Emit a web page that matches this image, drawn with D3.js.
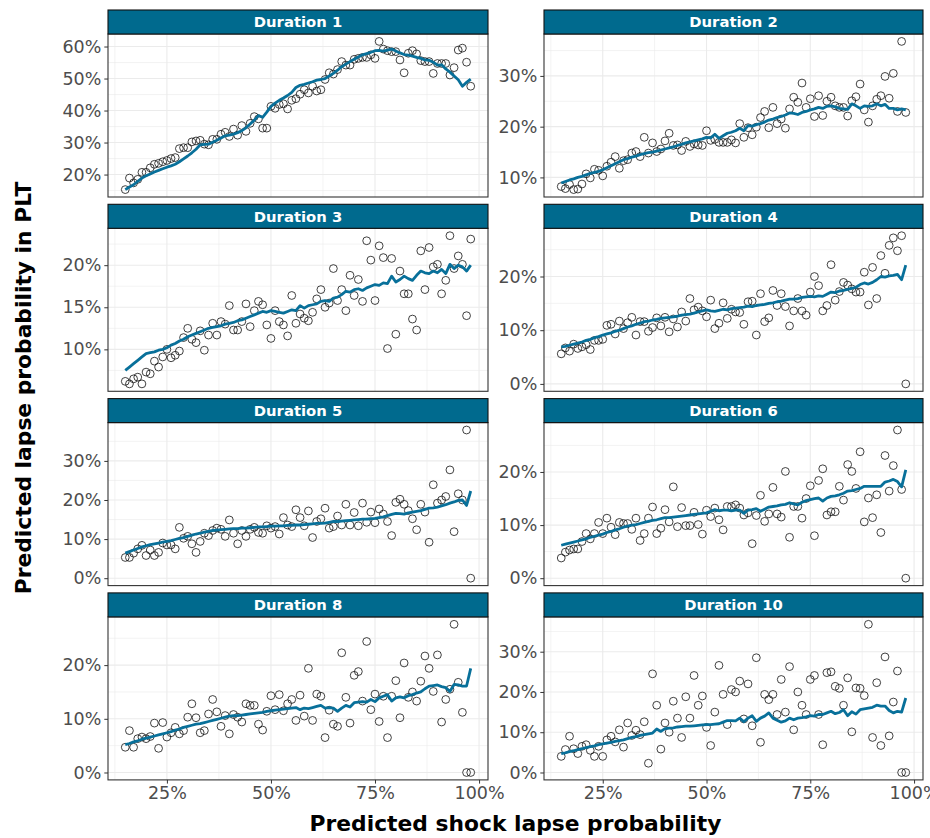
<!DOCTYPE html>
<html lang="en">
<head>
<meta charset="utf-8">
<title>Predicted lapse probability by duration</title>
<style>
body { margin: 0; background: #fff; }
text { font-family: "DejaVu Sans", sans-serif; }
.tick-label { font-size: 17.5px; fill: #4d4d4d; }
.strip-label { font-size: 14.8px; font-weight: bold; fill: #fff; }
.axis-title { font-size: 21.8px; font-weight: bold; fill: #000; }
</style>
</head>
<body>
<svg width="930" height="838"></svg>

<script src="https://cdn.jsdelivr.net/npm/d3@7"></script>
<script>

// predicted shock lapse probability (x), same for every panel
const shockProb = [
  0.15, 0.16, 0.17, 0.18, 0.19, 0.20, 0.21, 0.22, 0.23, 0.24,
  0.25, 0.26, 0.27, 0.28, 0.29, 0.30, 0.31, 0.32, 0.33, 0.34,
  0.35, 0.36, 0.37, 0.38, 0.39, 0.40, 0.41, 0.42, 0.43, 0.44,
  0.45, 0.46, 0.47, 0.48, 0.49, 0.50, 0.51, 0.52, 0.53, 0.54,
  0.55, 0.56, 0.57, 0.58, 0.59, 0.60, 0.61, 0.62, 0.63, 0.64,
  0.65, 0.66, 0.67, 0.68, 0.69, 0.70, 0.71, 0.72, 0.73, 0.74,
  0.75, 0.76, 0.77, 0.78, 0.79, 0.80, 0.81, 0.82, 0.83, 0.84,
  0.85, 0.86, 0.87, 0.88, 0.89, 0.90, 0.91, 0.92, 0.93, 0.94,
  0.95, 0.96, 0.97, 0.98];

const durations = ['Duration 1', 'Duration 2', 'Duration 3', 'Duration 4',
                   'Duration 5', 'Duration 6', 'Duration 8', 'Duration 10'];

// observed lapse probability in PLT (%), circles
const pts1 = [15.3, 18.9, 17.4, 18.5, 20.7, 20.7, 22.1, 23.2, 23.5, 24.0,
  24.4, 25.0, 25.3, 28.1, 28.4, 28.4, 30.2, 30.5, 30.7, 29.5,
  29.3, 31.0, 31.0, 32.6, 33.2, 31.9, 34.2, 32.3, 35.3, 33.5,
  36.0, 38.1, 37.4, 34.5, 34.5, 41.3, 40.7, 41.9, 42.1, 40.5,
  43.2, 43.7, 45.1, 46.5, 45.5, 47.6, 46.1, 46.5, 49.7, 51.8,
  51.4, 52.8, 55.3, 54.2, 54.2, 56.0, 56.3, 56.6, 56.6, 57.4,
  56.3, 61.6, 59.2, 58.7, 58.4, 58.4, 55.8, 51.8, 57.9, 58.7,
  57.7, 55.6, 55.3, 55.3, 51.6, 54.7, 54.7, 54.7, 51.1, 53.4,
  58.9, 59.5, 55.1, 47.6];
const pts2 = [8.2, 7.8, 8.6, 7.6, 7.7, 8.7, 10.7, 9.9, 11.6, 11.4,
  10.3, 12.2, 13.0, 14.1, 11.8, 13.3, 13.5, 14.8, 15.1, 14.1,
  17.9, 14.8, 16.8, 15.1, 15.6, 17.2, 18.7, 16.3, 16.4, 15.3,
  17.1, 16.1, 16.6, 16.4, 16.3, 19.2, 17.3, 17.5, 16.9, 16.9,
  16.9, 17.4, 16.8, 20.6, 17.9, 19.8, 18.4, 19.9, 21.8, 23.0,
  19.8, 23.8, 20.6, 21.5, 19.7, 23.5, 25.8, 24.8, 28.6, 23.8,
  25.5, 22.0, 26.1, 22.2, 25.0, 25.8, 24.1, 23.8, 23.8, 22.1,
  25.1, 25.9, 28.4, 23.3, 20.9, 24.1, 25.4, 26.1, 29.9, 25.6,
  30.5, 23.0, 36.8, 22.8];
const pts3 = [6.2, 5.9, 6.5, 6.7, 5.9, 7.3, 7.1, 8.6, 7.9, 9.1,
  10.0, 9.0, 9.3, 9.8, 11.4, 12.5, 11.2, 10.8, 12.2, 9.9,
  11.7, 13.1, 11.7, 13.3, 13.0, 15.2, 12.3, 12.3, 13.3, 15.4,
  12.7, 14.6, 15.7, 15.3, 12.9, 11.3, 14.6, 13.3, 12.9, 11.6,
  16.4, 13.1, 14.2, 13.7, 13.4, 14.4, 16.0, 17.1, 15.0, 15.5,
  19.6, 15.8, 17.1, 14.6, 18.8, 16.4, 18.3, 15.7, 22.9, 20.6,
  15.8, 22.3, 20.9, 10.1, 20.8, 11.8, 19.3, 16.6, 16.6, 13.6,
  12.3, 21.7, 17.1, 22.1, 19.8, 20.1, 16.6, 18.2, 23.5, 19.6,
  21.1, 20.1, 14.0, 23.1];
const pts4 = [5.6, 6.7, 6.1, 7.4, 6.6, 6.9, 7.3, 6.4, 8.1, 8.1,
  8.3, 10.9, 11.1, 9.3, 11.7, 10.3, 11.4, 12.4, 9.1, 11.6,
  11.6, 9.8, 10.5, 12.3, 10.8, 12.4, 9.7, 12.1, 10.6, 13.4,
  11.7, 15.9, 13.8, 14.3, 13.6, 12.5, 15.6, 10.3, 11.3, 15.1,
  12.2, 13.9, 13.4, 13.3, 11.1, 15.3, 15.4, 9.1, 16.8, 11.6,
  12.3, 17.4, 14.6, 16.8, 14.4, 10.8, 13.6, 15.9, 13.6, 12.8,
  17.1, 20.0, 18.3, 13.6, 14.6, 22.2, 15.6, 17.2, 18.9, 18.4,
  17.7, 17.1, 17.1, 20.8, 14.7, 21.7, 15.9, 23.9, 20.6, 25.8,
  27.2, 24.8, 27.6, 0.0];
const pts5 = [5.3, 5.3, 6.4, 7.5, 8.4, 5.8, 7.2, 5.8, 6.6, 9.0,
  8.5, 8.5, 7.5, 13.0, 10.2, 10.7, 8.8, 6.6, 9.4, 11.5,
  10.9, 12.2, 12.8, 12.5, 10.7, 14.9, 11.5, 8.8, 12.2, 10.7,
  12.5, 13.0, 11.7, 11.5, 13.4, 12.8, 13.2, 11.3, 15.5, 13.6,
  13.2, 17.5, 15.5, 13.4, 17.2, 10.4, 14.5, 15.2, 17.9, 12.8,
  13.2, 15.9, 13.6, 18.9, 13.6, 16.8, 13.4, 19.2, 14.3, 16.9,
  14.2, 17.7, 16.4, 14.5, 10.9, 19.4, 20.2, 18.9, 17.3, 15.2,
  12.4, 18.9, 16.9, 9.2, 23.9, 19.2, 20.0, 20.9, 27.7, 11.9,
  21.6, 20.0, 37.9, 0.0];
const pts6 = [3.8, 4.9, 5.3, 5.5, 5.5, 6.9, 8.4, 7.4, 8.4, 10.5,
  8.4, 11.3, 9.6, 8.2, 10.5, 10.3, 10.3, 9.2, 11.3, 7.1,
  8.4, 11.3, 13.4, 8.4, 9.4, 12.9, 10.6, 17.2, 9.7, 13.3,
  9.9, 9.9, 12.4, 10.1, 8.3, 12.8, 11.6, 13.2, 11.0, 9.1,
  13.5, 13.5, 13.8, 13.2, 11.9, 12.3, 6.5, 11.8, 15.6, 10.7,
  12.1, 17.1, 12.1, 11.5, 20.1, 7.7, 13.5, 13.5, 11.3, 15.0,
  17.4, 8.0, 18.4, 20.6, 11.9, 12.5, 12.5, 17.3, 14.7, 21.4,
  20.1, 16.9, 23.8, 10.6, 15.1, 11.4, 15.7, 8.6, 23.1, 16.4,
  21.2, 27.9, 16.7, 0.0];
const pts8 = [4.7, 7.8, 4.7, 6.3, 6.6, 6.3, 6.7, 9.2, 4.5, 9.3,
  6.6, 7.4, 8.4, 7.2, 7.8, 10.3, 12.8, 10.2, 7.4, 7.8,
  10.9, 13.6, 11.3, 8.6, 10.6, 7.2, 10.8, 10.3, 9.4, 12.8,
  12.5, 12.5, 9.0, 7.9, 11.4, 14.3, 11.7, 14.5, 11.5, 12.8,
  13.6, 9.7, 14.4, 10.5, 19.4, 9.7, 14.6, 14.2, 6.5, 11.6,
  9.0, 8.6, 22.3, 14.0, 9.2, 18.1, 18.8, 13.3, 24.4, 11.7,
  14.6, 9.5, 14.2, 6.5, 14.2, 17.1, 10.2, 20.4, 14.0, 15.0,
  13.3, 17.0, 21.7, 19.4, 15.1, 21.9, 9.4, 13.6, 15.5, 27.6,
  16.8, 11.2, 0.0, 0.0];
const pts10 = [4.0, 5.7, 9.0, 5.9, 4.7, 6.5, 6.9, 5.5, 4.0, 6.5,
  4.0, 8.1, 9.0, 7.6, 10.6, 6.3, 12.3, 9.2, 10.5, 9.4,
  12.6, 2.3, 24.5, 16.7, 5.8, 12.3, 10.0, 17.7, 13.5, 8.7,
  18.8, 13.5, 24.1, 16.7, 19.0, 11.2, 6.7, 15.0, 26.6, 19.4,
  11.9, 20.6, 20.0, 22.7, 13.3, 22.0, 11.6, 28.5, 7.5, 19.4,
  18.1, 19.4, 14.4, 23.1, 15.0, 26.3, 10.6, 20.0, 16.7, 14.4,
  23.1, 24.1, 14.4, 6.9, 24.8, 25.0, 21.4, 20.9, 16.7, 23.5,
  10.1, 21.0, 20.9, 19.1, 36.8, 8.7, 22.3, 6.7, 28.7, 9.1,
  17.5, 25.2, 0.0, 0.0];

// predicted lapse probability in PLT (%), line
const fit1 = [15.3, 16.1, 16.8, 17.9, 18.9, 19.6, 20.2, 20.8, 21.3, 21.8,
  22.3, 22.7, 23.2, 24.0, 24.9, 25.8, 26.8, 27.9, 29.3, 29.4,
  29.5, 30.1, 30.7, 31.4, 32.1, 32.3, 32.6, 33.1, 33.7, 34.6,
  35.8, 37.0, 38.4, 37.9, 39.5, 41.3, 42.3, 43.2, 43.9, 44.7,
  45.7, 47.2, 47.9, 48.2, 48.6, 49.0, 49.5, 49.7, 50.0, 50.8,
  51.6, 52.6, 53.7, 54.5, 55.3, 56.0, 56.7, 57.4, 57.8, 58.2,
  58.7, 58.8, 58.6, 58.9, 59.2, 58.6, 58.0, 57.5, 57.3, 57.0,
  56.6, 56.3, 55.8, 55.7, 55.1, 54.2, 54.3, 53.0, 52.0, 50.8,
  49.6, 47.6, 48.8, 49.8];
const fit2 = [8.9, 9.2, 9.5, 9.7, 10.0, 10.2, 10.5, 10.8, 11.0, 11.2,
  11.5, 11.9, 12.3, 12.7, 13.1, 13.5, 13.7, 14.0, 14.2, 14.5,
  14.7, 14.9, 15.0, 15.2, 15.4, 15.6, 15.8, 16.0, 16.3, 16.5,
  16.8, 17.0, 17.2, 17.4, 17.6, 17.9, 17.8, 18.5, 17.7, 18.2,
  18.7, 18.9, 19.2, 19.7, 19.2, 20.2, 20.1, 20.4, 20.6, 20.9,
  21.3, 21.5, 21.8, 22.0, 22.3, 22.7, 22.6, 22.4, 22.8, 23.0,
  23.3, 23.5, 23.8, 23.6, 24.0, 24.1, 23.9, 23.6, 23.5, 23.4,
  24.5, 24.1, 23.6, 24.1, 24.0, 24.1, 24.5, 24.1, 24.4, 23.6,
  23.6, 23.3, 23.5, 23.3];
const fit3 = [7.5, 7.9, 8.3, 8.7, 9.1, 9.5, 9.6, 9.7, 9.9, 10.0,
  10.2, 10.5, 10.7, 11.0, 11.2, 11.5, 11.7, 11.9, 12.1, 12.3,
  12.5, 12.6, 12.7, 12.8, 13.0, 13.1, 13.2, 13.4, 13.5, 13.7,
  13.9, 14.1, 14.3, 14.5, 14.4, 14.6, 14.5, 14.4, 14.3, 14.5,
  14.7, 14.6, 15.2, 14.9, 15.2, 15.3, 15.4, 15.7, 15.8, 15.7,
  16.1, 16.2, 16.5, 16.9, 16.8, 17.1, 17.2, 17.0, 17.3, 17.5,
  17.7, 17.6, 17.9, 17.8, 18.7, 18.0, 18.3, 18.7, 18.4, 18.2,
  18.8, 19.3, 19.1, 19.0, 19.3, 19.1, 19.5, 19.0, 20.1, 19.6,
  20.0, 19.8, 19.3, 20.0];
const fit4 = [6.9, 7.0, 7.2, 7.4, 7.6, 7.8, 8.1, 8.3, 8.6, 8.8,
  9.1, 9.3, 9.5, 9.8, 10.0, 10.3, 10.6, 10.8, 11.1, 11.3,
  11.6, 11.7, 11.9, 12.0, 12.2, 12.3, 12.4, 12.5, 12.6, 12.8,
  12.9, 13.0, 13.2, 13.4, 13.6, 13.8, 13.6, 13.5, 13.7, 13.9,
  13.8, 14.0, 14.1, 14.2, 14.3, 14.5, 14.4, 14.6, 14.7, 14.8,
  15.0, 15.1, 15.3, 15.4, 15.6, 15.8, 15.8, 15.9, 16.1, 16.2,
  16.3, 16.2, 16.4, 16.3, 16.7, 17.1, 17.0, 17.3, 17.4, 17.6,
  17.8, 18.0, 18.5, 18.8, 18.6, 18.9, 19.4, 20.0, 19.9, 20.1,
  20.2, 20.4, 19.4, 22.1];
const fit5 = [6.4, 6.8, 7.2, 7.6, 8.0, 8.3, 8.6, 8.8, 9.0, 9.2,
  9.4, 9.6, 9.9, 10.2, 10.4, 10.7, 11.0, 11.3, 11.5, 11.8,
  12.0, 12.2, 12.3, 12.4, 12.5, 12.6, 12.7, 12.7, 12.8, 12.8,
  12.9, 13.0, 13.1, 13.1, 13.2, 13.3, 13.3, 13.4, 13.4, 13.5,
  13.5, 13.6, 13.6, 13.7, 13.8, 13.9, 14.0, 14.0, 14.1, 14.3,
  14.5, 14.5, 14.6, 14.7, 14.8, 14.9, 15.0, 15.1, 15.1, 15.2,
  15.3, 15.5, 15.7, 16.0, 16.3, 16.6, 16.5, 16.4, 16.7, 16.9,
  17.1, 17.3, 17.6, 17.9, 18.0, 18.2, 18.5, 18.8, 19.2, 19.5,
  19.9, 20.0, 18.6, 22.3];
const fit6 = [6.2, 6.4, 6.6, 6.8, 7.0, 7.2, 7.4, 7.7, 7.9, 8.1,
  8.3, 8.6, 8.8, 9.1, 9.3, 9.6, 9.8, 10.0, 10.1, 10.3,
  10.5, 10.7, 10.9, 11.0, 11.2, 11.4, 11.4, 11.5, 11.6, 11.7,
  11.8, 11.9, 12.0, 12.1, 12.2, 12.3, 12.6, 12.9, 12.7, 12.8,
  12.8, 12.7, 12.8, 12.8, 12.2, 12.8, 12.9, 13.1, 12.6, 13.0,
  13.4, 13.5, 13.6, 13.8, 13.9, 14.2, 14.0, 13.8, 14.3, 14.6,
  14.8, 15.0, 15.1, 14.5, 15.1, 15.4, 15.5, 15.7, 16.0, 16.4,
  16.5, 16.7, 16.9, 17.3, 17.3, 17.3, 17.3, 17.3, 18.1, 18.3,
  18.6, 18.2, 17.2, 20.4];
const fit8 = [5.2, 5.4, 5.7, 5.9, 6.2, 6.4, 6.6, 6.8, 7.0, 7.2,
  7.4, 7.6, 7.9, 8.1, 8.4, 8.6, 8.8, 9.0, 9.1, 9.3,
  9.5, 9.7, 9.9, 10.1, 10.3, 10.5, 10.6, 10.6, 10.7, 10.8,
  10.9, 11.0, 11.1, 11.2, 11.4, 11.5, 11.6, 11.7, 11.8, 11.9,
  12.0, 12.1, 11.7, 12.0, 11.9, 12.1, 12.3, 12.5, 12.0, 12.1,
  12.0, 11.4, 12.0, 12.5, 12.2, 13.0, 13.1, 13.2, 13.1, 13.6,
  13.2, 13.9, 14.2, 14.5, 13.3, 13.9, 14.1, 13.9, 14.3, 14.5,
  14.8, 15.0, 15.6, 16.1, 16.2, 16.3, 16.0, 15.8, 15.1, 16.4,
  16.3, 16.1, 16.1, 19.4];
const fit10 = [4.7, 4.9, 5.2, 5.4, 5.7, 5.9, 6.2, 6.4, 6.6, 6.9,
  7.1, 7.3, 7.5, 7.7, 7.9, 8.1, 8.4, 8.7, 8.9, 9.2,
  9.4, 9.6, 9.8, 10.8, 10.2, 10.9, 11.0, 11.1, 11.3, 11.4,
  11.5, 11.5, 11.6, 11.7, 11.8, 11.9, 11.9, 12.0, 12.1, 12.5,
  12.9, 12.9, 12.8, 13.5, 12.6, 13.5, 14.1, 12.7, 13.5, 14.0,
  14.8, 13.5, 13.0, 12.5, 12.8, 13.5, 13.1, 13.5, 13.6, 13.8,
  14.1, 14.0, 14.4, 14.4, 14.8, 15.2, 14.6, 14.9, 15.6, 14.1,
  15.1, 14.5, 15.6, 15.8, 16.0, 16.2, 16.7, 16.5, 16.5, 15.4,
  14.8, 15.2, 15.0, 18.5];

// y axis breaks per panel (%)
const yTicks = [
  [20, 30, 40, 50, 60],
  [10, 20, 30],
  [10, 15, 20],
  [0, 10, 20],
  [0, 10, 20, 30],
  [0, 10, 20],
  [0, 10, 20],
  [0, 10, 20, 30]];
const xTicks = [0.25, 0.50, 0.75, 1.00];
const xTickLabels = ['25%', '50%', '75%', '100%'];

const pointSets = [pts1, pts2, pts3, pts4, pts5, pts6, pts8, pts10];
const fitSets = [fit1, fit2, fit3, fit4, fit5, fit6, fit8, fit10];

const STRIP_FILL = '#006a8e';
const LINE_COL = '#08709a';
const GRID_COL = '#ebebeb';

var svg = d3.select('svg');

// facet layout (2 columns x 4 rows)
const colX = [[108, 488], [544, 923]];
const rowTop = 10, rowStep = 194.3, stripH = 24, plotH = 163;

// ggplot style 5% expansion
function expand(lo, hi) {
  let pad = (hi - lo) * 0.05;
  return [lo - pad, hi + pad];
}

let x = d3.scaleLinear()
  .domain(expand(d3.min(shockProb), d3.max(shockProb)));

durations.forEach((name, i) => {
  let col = i % 2, row = Math.floor(i / 2);
  let x0 = colX[col][0], x1 = colX[col][1];
  let top = rowTop + row * rowStep;
  let pTop = top + stripH, pBot = pTop + plotH;
  let pts = pointSets[i], fit = fitSets[i];

  let px = x.copy().range([x0, x1]);
  let lo = Math.min(d3.min(pts), d3.min(fit));
  let hi = Math.max(d3.max(pts), d3.max(fit));
  let y = d3.scaleLinear().domain(expand(lo, hi)).range([pBot, pTop]);

  let g = svg.append('g');

  // grid: minor then major
  let ticks = yTicks[i];
  let step = ticks[1] - ticks[0];
  let dom = y.domain();
  let yMinor = [];
  for (let k = -1; k < ticks.length; k++) {
    let v = ticks[0] + (k + 0.5) * step;
    if (v > dom[0] && v < dom[1]) yMinor.push(v);
  }
  let xMinor = [0.125, 0.375, 0.625, 0.875].filter(v => v > px.domain()[0]);

  g.selectAll('.ymin').data(yMinor).enter().append('line')
    .attr('x1', x0).attr('x2', x1)
    .attr('y1', d => y(d)).attr('y2', d => y(d))
    .attr('stroke', GRID_COL).attr('stroke-width', 0.6);
  g.selectAll('.xmin').data(xMinor).enter().append('line')
    .attr('y1', pTop).attr('y2', pBot)
    .attr('x1', d => px(d)).attr('x2', d => px(d))
    .attr('stroke', GRID_COL).attr('stroke-width', 0.6);
  g.selectAll('.ymaj').data(ticks).enter().append('line')
    .attr('x1', x0).attr('x2', x1)
    .attr('y1', d => y(d)).attr('y2', d => y(d))
    .attr('stroke', GRID_COL).attr('stroke-width', 1.1);
  g.selectAll('.xmaj').data(xTicks.filter(v => v < px.domain()[1])).enter().append('line')
    .attr('y1', pTop).attr('y2', pBot)
    .attr('x1', d => px(d)).attr('x2', d => px(d))
    .attr('stroke', GRID_COL).attr('stroke-width', 1.1);

  // observed points
  g.selectAll('circle').data(pts).enter().append('circle')
    .attr('cx', (d, j) => px(shockProb[j]))
    .attr('cy', d => y(d))
    .attr('r', 3.9)
    .attr('fill', 'none')
    .attr('stroke', '#111')
    .attr('stroke-width', 0.8);

  // fitted line
  g.append('path')
    .datum(fit)
    .attr('fill', 'none')
    .attr('stroke', LINE_COL)
    .attr('stroke-width', 2.8)
    .attr('stroke-linejoin', 'round')
    .attr('d', d3.line().x((d, j) => px(shockProb[j])).y(d => y(d)));

  // panel border
  g.append('rect')
    .attr('x', x0).attr('y', pTop)
    .attr('width', x1 - x0).attr('height', plotH)
    .attr('fill', 'none').attr('stroke', '#333').attr('stroke-width', 1.1);

  // strip
  g.append('rect')
    .attr('x', x0).attr('y', top)
    .attr('width', x1 - x0).attr('height', stripH)
    .attr('fill', STRIP_FILL).attr('stroke', '#111').attr('stroke-width', 1.1);
  g.append('text')
    .attr('class', 'strip-label')
    .attr('x', (x0 + x1) / 2).attr('y', top + stripH / 2)
    .attr('dy', '0.36em')
    .attr('text-anchor', 'middle')
    .text(name);

  // y axis
  let ya = g.append('g')
    .attr('transform', 'translate(' + x0 + ',0)')
    .call(d3.axisLeft(y).tickValues(ticks).tickSize(3.7).tickPadding(3)
      .tickFormat(d => d + '%'));
  ya.select('.domain').remove();
  ya.selectAll('line').attr('stroke', '#333');
  ya.selectAll('text').attr('class', 'tick-label').attr('fill', null)
    .attr('font-family', null).attr('font-size', null);

  // x axis only on bottom row
  if (row === 3) {
    let xa = g.append('g')
      .attr('transform', 'translate(0,' + pBot + ')')
      .call(d3.axisBottom(px).tickValues(xTicks).tickSize(3.7).tickPadding(3)
        .tickFormat((d, k) => xTickLabels[k]));
    xa.select('.domain').remove();
    xa.selectAll('line').attr('stroke', '#333');
    xa.selectAll('text').attr('class', 'tick-label').attr('fill', null)
      .attr('font-family', null).attr('font-size', null);
  }
});

// axis titles
svg.append('text')
  .attr('class', 'axis-title')
  .attr('x', (colX[0][0] + colX[1][1]) / 2)
  .attr('y', 831)
  .attr('text-anchor', 'middle')
  .text('Predicted shock lapse probability');

svg.append('text')
  .attr('class', 'axis-title')
  .attr('transform', 'translate(31,388) rotate(-90)')
  .attr('text-anchor', 'middle')
  .text('Predicted lapse probability in PLT');

</script>
</body>
</html>
